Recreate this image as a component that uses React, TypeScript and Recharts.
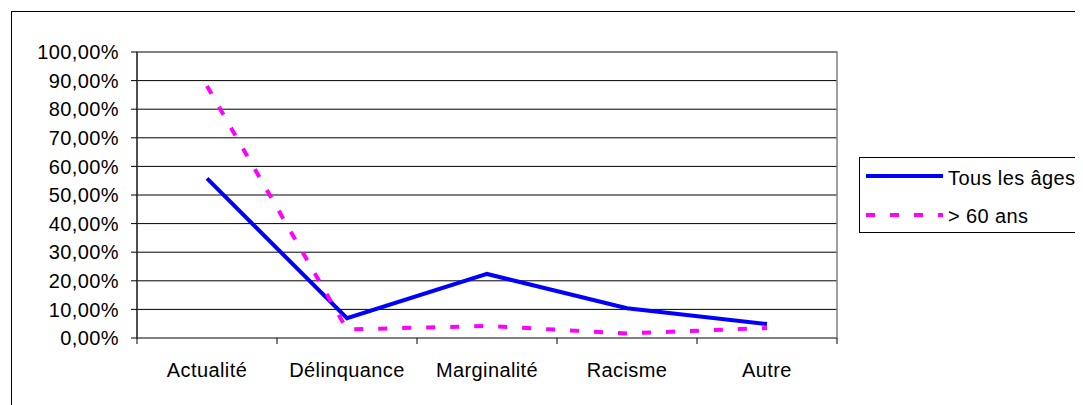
import React from 'react';
import { LineChart, Line, XAxis, YAxis, CartesianGrid, Legend, ReferenceArea } from 'recharts';

const categories = ['Actualité', 'Délinquance', 'Marginalité', 'Racisme', 'Autre'];
const tousLesAges = [0.558, 0.069, 0.224, 0.104, 0.049];
const plus60 = [0.881, 0.03, 0.042, 0.016, 0.035];
const yTicks = [0, 0.1, 0.2, 0.3, 0.4, 0.5, 0.6, 0.7, 0.8, 0.9, 1];
const seriesNames = ['Tous les âges', '> 60 ans'];
const seriesKeys = ['all', 'senior'];

const data = categories.map((c, i) => ({ x: i + 0.5, cat: c, all: tousLesAges[i], senior: plus60[i] }));
const xTicks: number[] = [];
for (let i = 0; i <= categories.length * 2; i++) xTicks.push(i / 2);

const FONT = '"Liberation Sans", Arial, sans-serif';
const LS = 0.4;

const styles: Record<string, { stroke: string; dash?: string }> = {
  all: { stroke: '#0000FF' },
  senior: { stroke: '#FF00FF', dash: '9 15' },
};

const fmtY = (v: number) => (v * 100).toFixed(2).replace('.', ',') + '%';

const XTick = (props: any) => {
  const { x, y, payload } = props;
  const v = payload.value as number;
  if (Number.isInteger(v)) {
    return <line x1={x} x2={x} y1={y - 6} y2={y} stroke="#000" strokeWidth={1} />;
  }
  const label = categories[Math.floor(v)];
  return (
    <text x={x} y={y + 33} textAnchor="middle" fontSize={20} fontFamily={FONT} fill="#000" letterSpacing={LS}>
      {label}
    </text>
  );
};

const renderLegend = (props: any) => {
  const payload = [...(props.payload || [])].sort(
    (a: any, b: any) => seriesKeys.indexOf(a.dataKey) - seriesKeys.indexOf(b.dataKey)
  );
  return (
    <svg width={240} height={77} style={{ display: 'block' }}>
      <rect x={0.5} y={0.5} width={250} height={75} fill="#fff" stroke="#000" strokeWidth={1} />
      {payload.map((e: any, i: number) => {
        const key = e.dataKey as string;
        const st = styles[key] || { stroke: e.color };
        const ly = 19 + i * 39;
        const ty = 28 + i * 38;
        return (
          <g key={key}>
            <line x1={7} x2={84} y1={ly} y2={ly} stroke={st.stroke} strokeWidth={4} strokeDasharray={st.dash} />
            <text x={89} y={ty} fontSize={20} fontFamily={FONT} fill="#000" letterSpacing={LS}>
              {e.value}
            </text>
          </g>
        );
      })}
    </svg>
  );
};

export default function App() {
  return (
    <div style={{ position: 'relative', width: 1075, height: 397, overflow: 'hidden', background: '#fff', fontFamily: FONT }}>
      <div style={{ position: 'absolute', left: 3, top: 3, width: 1200, height: 500, border: '1px solid #000', boxSizing: 'border-box' }} />
      <div style={{ position: 'absolute', left: 0, top: 0 }}>
        <LineChart width={1075} height={397} data={data} margin={{ top: 44, right: 246, bottom: 27, left: 0 }}>
          <CartesianGrid horizontal vertical={false} stroke="#000" strokeWidth={1} />
          <ReferenceArea x1={0} x2={5} y1={0} y2={1} fill="none" stroke="#808080" strokeWidth={1.5} ifOverflow="extendDomain" />
          <XAxis
            dataKey="x"
            type="number"
            domain={[0, 5]}
            ticks={xTicks}
            interval={0}
            height={40}
            tickLine={false}
            tickSize={6}
            tickMargin={0}
            tick={<XTick />}
            axisLine={{ stroke: '#808080', strokeWidth: 1.5 }}
          />
          <YAxis
            type="number"
            domain={[0, 1]}
            ticks={yTicks}
            interval={0}
            width={129}
            tickFormatter={fmtY}
            tickSize={6}
            tickMargin={12}
            tickLine={{ stroke: '#000' }}
            axisLine={{ stroke: '#000' }}
            tick={{ fontSize: 20, fill: '#000', fontFamily: FONT, letterSpacing: LS }}
          />
          <Legend
            layout="horizontal"
            verticalAlign="middle"
            align="center"
            content={renderLegend}
            wrapperStyle={{ position: 'absolute', left: 851, top: 149, width: 240, height: 77 }}
          />
          <Line
            dataKey="all"
            name={seriesNames[0]}
            stroke={styles.all.stroke}
            strokeWidth={4}
            dot={false}
            activeDot={false}
            isAnimationActive={false}
          />
          <Line
            dataKey="senior"
            name={seriesNames[1]}
            stroke={styles.senior.stroke}
            strokeWidth={4}
            strokeDasharray={styles.senior.dash}
            dot={false}
            activeDot={false}
            isAnimationActive={false}
          />
        </LineChart>
      </div>
    </div>
  );
}
